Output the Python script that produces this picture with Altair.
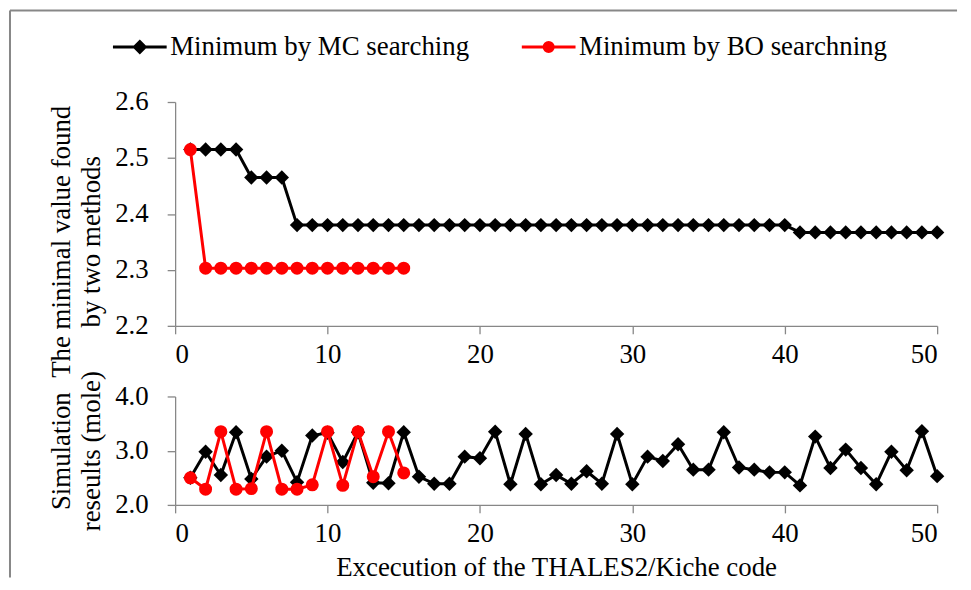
import altair as alt
import pandas as pd

# ---------------- data ----------------
runs = list(range(1, 51))
series_names = ["Minimum by MC searching", "Minimum by BO searchning"]

# minimum found so far (top panel)
mc_min = [2.515, 2.515, 2.515, 2.515, 2.465, 2.465, 2.465, 2.380, 2.380, 2.380,
          2.380, 2.380, 2.380, 2.380, 2.380, 2.380, 2.380, 2.380, 2.380, 2.380,
          2.380, 2.380, 2.380, 2.380, 2.380, 2.380, 2.380, 2.380, 2.380, 2.380,
          2.380, 2.380, 2.380, 2.380, 2.380, 2.380, 2.380, 2.380, 2.380, 2.380,
          2.367, 2.367, 2.367, 2.367, 2.367, 2.367, 2.367, 2.367, 2.367, 2.367]
bo_min = [2.515, 2.303, 2.303, 2.303, 2.303, 2.303, 2.303, 2.303, 2.303, 2.303,
          2.303, 2.303, 2.303, 2.303, 2.303]

# simulation results per execution (bottom panel)
mc_sim = [2.50, 2.98, 2.55, 3.34, 2.48, 2.89, 3.00, 2.42, 3.28, 3.33,
          2.79, 3.34, 2.41, 2.40, 3.34, 2.52, 2.39, 2.39, 2.89, 2.86,
          3.35, 2.38, 3.31, 2.38, 2.55, 2.39, 2.62, 2.39, 3.31, 2.38,
          2.89, 2.81, 3.12, 2.65, 2.65, 3.34, 2.69, 2.65, 2.60, 2.60,
          2.36, 3.26, 2.68, 3.02, 2.68, 2.38, 2.98, 2.64, 3.36, 2.53]
bo_sim = [2.50, 2.29, 3.35, 2.29, 2.30, 3.35, 2.29, 2.29, 2.37, 3.35,
          2.36, 3.35, 2.52, 3.35, 2.59]

x_ticks = [0, 10, 20, 30, 40, 50]
top_y_ticks = [2.2, 2.3, 2.4, 2.5, 2.6]
bot_y_ticks = [2.0, 3.0, 4.0]

# ---------------- style ----------------
FONT = "Liberation Serif"
FS = 27
GREY = "#878787"
COLORS = ["#000000", "#ff0000"]
W = 766
H_TOP = 225
H_BOT = 109

# legend symbols: line segment with marker
mc_path = "M-1,0L1,0M0,-0.2L0.2,0L0,0.2L-0.2,0Z"
bo_path = ("M-1,0L1,0M-0.17,0A0.17,0.17,0,1,0,0.17,0"
           "A0.17,0.17,0,1,0,-0.17,0Z")


def frame(n, name, values):
    return pd.DataFrame({"run": runs[:n], "value": values, "series": name})


top_mc = frame(len(mc_min), series_names[0], mc_min)
top_bo = frame(len(bo_min), series_names[1], bo_min)
bot_mc = frame(len(mc_sim), series_names[0], mc_sim)
bot_bo = frame(len(bo_sim), series_names[1], bo_sim)

xscale = alt.Scale(domain=[0, 50], nice=False)


def panel_layers(df_mc, df_bo, y_enc, x_axis):
    x_enc = alt.X("run:Q", scale=xscale, axis=x_axis)
    mc_line = alt.Chart(df_mc).mark_line(color=COLORS[0], strokeWidth=3).encode(x=x_enc, y=y_enc)
    mc_pts = alt.Chart(df_mc).mark_point(shape="diamond", filled=True, color=COLORS[0],
                                         size=210, opacity=1).encode(x=x_enc, y=y_enc)
    bo_line = alt.Chart(df_bo).mark_line(color=COLORS[1], strokeWidth=3).encode(x=x_enc, y=y_enc)
    bo_pts = alt.Chart(df_bo).mark_point(shape="circle", filled=True, color=COLORS[1],
                                         size=170, opacity=1).encode(x=x_enc, y=y_enc)
    return [mc_line, mc_pts, bo_line, bo_pts]


# ---------------- top panel ----------------
top_y = alt.Y("value:Q", scale=alt.Scale(domain=[2.2, 2.6], nice=False, zero=False),
              axis=alt.Axis(values=top_y_ticks, format=".1f",
                            title=["The minimal value found", "by two methods"],
                            labelPadding=19, titlePadding=9, titleY=140))
top_x_axis = alt.Axis(values=x_ticks, title=None, labelPadding=8)

legend_def = alt.Legend(orient="none", legendX=-64, legendY=-84, direction="horizontal",
                        title=None, labelFont=FONT, labelFontSize=FS, labelColor="black",
                        symbolSize=2916, symbolStrokeWidth=3, symbolOpacity=1,
                        labelOffset=2, columnPadding=46, labelLimit=500)
leg_df = pd.DataFrame({"series": series_names})
legend_layer = alt.Chart(leg_df).mark_point(filled=True, strokeWidth=3).encode(
    fill=alt.Fill("series:N", scale=alt.Scale(domain=series_names, range=COLORS), legend=legend_def),
    stroke=alt.Stroke("series:N", scale=alt.Scale(domain=series_names, range=COLORS), legend=legend_def),
    shape=alt.Shape("series:N", scale=alt.Scale(domain=series_names, range=[mc_path, bo_path]),
                    legend=legend_def),
).transform_filter("false")

one = pd.DataFrame({"k": [0]})
frame_left = alt.Chart(one).mark_rule(color=GREY, strokeWidth=2).encode(
    x=alt.value(-166), y=alt.value(-92), y2=alt.value(478))
frame_top = alt.Chart(one).mark_rule(color=GREY, strokeWidth=2).encode(
    x=alt.value(-166), x2=alt.value(786), y=alt.value(-92))

top = alt.layer(frame_left, frame_top, *panel_layers(top_mc, top_bo, top_y, top_x_axis),
                legend_layer).properties(width=W, height=H_TOP)

# ---------------- bottom panel ----------------
bot_y = alt.Y("value:Q", scale=alt.Scale(domain=[2.0, 4.0], nice=False, zero=False),
              axis=alt.Axis(values=bot_y_ticks, format=".1f",
                            title=["Simulation", "reseults (mole)"],
                            labelPadding=19, titlePadding=9))
bot_x_axis = alt.Axis(values=x_ticks, title="Excecution of the THALES2/Kiche code",
                      labelPadding=8, titlePadding=8)
bottom = alt.layer(*panel_layers(bot_mc, bot_bo, bot_y, bot_x_axis)).properties(width=W, height=H_BOT)

chart = alt.vconcat(top, bottom, spacing=71, bounds="flush").properties(
    padding={"left": 1, "top": 0, "right": 5, "bottom": 0}
).configure(
    font=FONT,
).configure_axis(
    labelFont=FONT, labelFontSize=FS, labelColor="black",
    titleFont=FONT, titleFontSize=FS, titleFontWeight="normal", titleColor="black",
    domainColor=GREY, tickColor=GREY, domainWidth=1.3, tickWidth=1.3, tickSize=8,
    grid=False, titleLineHeight=30,
).configure_legend(
    labelFont=FONT, labelFontSize=FS, labelColor="black", labelLimit=500,
).configure_view(stroke=None).configure_concat(spacing=71)

chart.save("out.html", embed_options={"renderer": "svg", "actions": False})
